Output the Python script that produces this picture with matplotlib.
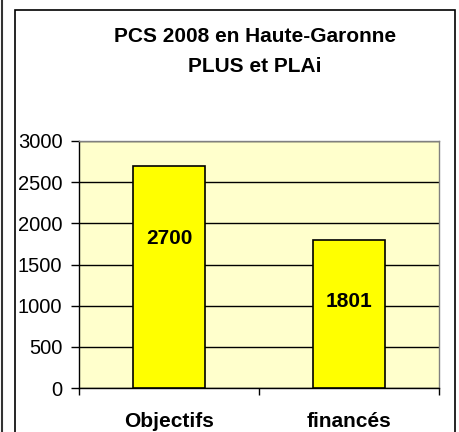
import matplotlib
matplotlib.use('Agg')
import matplotlib.pyplot as plt
from matplotlib.patches import Rectangle
from matplotlib.lines import Line2D

categories = ['Objectifs', 'financés']
values = [2700, 1801]
label_y = [1820, 1055]
yticks = [0, 500, 1000, 1500, 2000, 2500, 3000]
title_lines = ['PCS 2008 en Haute-Garonne', 'PLUS et PLAi']

plt.rcParams['font.family'] = ['Liberation Sans', 'DejaVu Sans']

W, H = 459, 432
fig = plt.figure(figsize=(W / 100, H / 100), dpi=100)
fig.patch.set_facecolor('white')

# outer chart frame + left page line
fig.patches.append(Rectangle((15 / W, -0.02), 440 / W, (H - 10) / H + 0.02,
                             transform=fig.transFigure, fill=False,
                             edgecolor='black', linewidth=1.2))
fig.lines.append(Line2D([1.5 / W, 1.5 / W], [0, 1], transform=fig.transFigure,
                        color='#333333', linewidth=1.5))

ax = fig.add_axes([79 / W, (H - 388) / H, 360 / W, 247 / H])
ax.set_facecolor('#FFFFCC')

x = list(range(len(categories)))
ax.bar(x, values, width=0.405, color='#FFFF00', edgecolor='black',
       linewidth=1.2, zorder=3)
for xi, v, ly in zip(x, values, label_y):
    ax.text(xi, ly, str(v), ha='center', va='center', fontsize=15,
            fontweight='bold', zorder=4)

ax.set_xlim(-0.5, len(categories) - 0.5)
ax.set_ylim(0, 3000)
ax.set_yticks(yticks)
ax.yaxis.grid(True, color='black', linewidth=1.0, zorder=1)
ax.set_axisbelow(True)
ax.tick_params(axis='y', direction='out', length=6, width=1, pad=6,
               labelsize=14.5, color='black')

ax.set_xticks(x)
ax.set_xticklabels(categories, fontsize=15, fontweight='bold')
ax.set_xticks([-0.5, 0.5, 1.5], minor=True)
ax.tick_params(axis='x', which='major', length=0, pad=17)
ax.tick_params(axis='x', which='minor', direction='out', length=5, width=1)

for s in ['left', 'bottom']:
    ax.spines[s].set_color('black')
    ax.spines[s].set_linewidth(1.0)
for s in ['top', 'right']:
    ax.spines[s].set_color('#808080')
    ax.spines[s].set_linewidth(1.0)

fig.text(255 / W, 1 - 36 / H, title_lines[0], ha='center', va='center',
         fontsize=15, fontweight='bold')
fig.text(255 / W, 1 - 67 / H, title_lines[1], ha='center', va='center',
         fontsize=15, fontweight='bold')

fig.savefig('out.png', dpi=100)
